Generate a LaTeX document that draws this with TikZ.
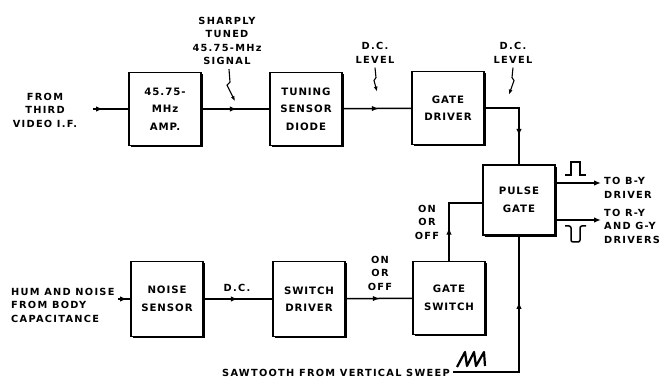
\documentclass[tikz,border=0pt]{standalone}
\usepackage{fontspec}
\newfontfamily\lblfont[LetterSpace=9]{DejaVu Sans}
\newfontfamily\capsfont[LetterSpace=13]{DejaVu Sans}
\usetikzlibrary{arrows.meta,shadows,decorations.markings}
\newcommand\boxfont{\lblfont\bfseries\fontsize{10.2}{17.5}\selectfont}
\newcommand\capfont{\capsfont\bfseries\fontsize{9.8}{13.5}\selectfont}
\tikzset{
  blk/.style={draw, line width=1.6pt, fill=white, minimum width=72pt, minimum height=73pt,
    align=center, font=\boxfont,
    general shadow={fill=black, shadow xshift=1.6pt, shadow yshift=-1.6pt}},
  lbl/.style={align=center, font=\capfont, inner sep=0pt},
  wire/.style={line width=1.5pt},
  arrowat/.style={wire, postaction={decorate},
    decoration={markings, mark=at position #1 with {\arrow{Latex[length=7pt,width=5.5pt]}}}},
  lead/.style={line width=1.1pt, -{Latex[length=5pt,width=4pt]}},
}

\begin{document}
\begin{tikzpicture}[x=1pt,y=-1pt]
  \fill[white] (0,0) rectangle (665,379);
  \useasboundingbox (0,0) rectangle (665,379);

  \node[blk] (amp)  at (165,109) {45.75-\\MHz\\AMP.};
  \node[blk] (tsd)  at (306,109) {TUNING\\SENSOR\\DIODE};
  \node[blk] (gdrv) at (448,108) {GATE\\DRIVER};
  \node[blk, minimum height=70pt] (pulse) at (519,200) {PULSE\\GATE};
  \node[blk, minimum height=75pt] (noise) at (167,299) {NOISE\\SENSOR};
  \node[blk, minimum height=75pt] (sdrv)  at (309,299) {SWITCH\\DRIVER};
  \node[blk] (gsw)  at (449,298) {GATE\\SWITCH};

  \node[lbl] (vif) at (45,110) {FROM\\THIRD\\VIDEO I.F.};
  \node[lbl] (sig) at (227,41) {SHARPLY\\TUNED\\45.75-MHz\\SIGNAL};
  \node[lbl] (dc1) at (375,53) {D.C.\\LEVEL};
  \node[lbl] (dc2) at (513,53) {D.C.\\LEVEL};
  \node[lbl] (onoff1) at (427,222) {ON\\OR\\OFF};
  \node[lbl] (onoff2) at (380,273) {ON\\OR\\OFF};
  \node[lbl] (dc3) at (237,288) {D.C.};
  \node[lbl, align=left, anchor=west] (hum) at (11,305) {HUM AND NOISE\\FROM BODY\\CAPACITANCE};
  \node[lbl, align=left, anchor=west] (toby) at (604,188) {TO B-Y\\DRIVER};
  \node[lbl, align=left, anchor=west] (tory) at (604,226) {TO R-Y\\AND G-Y\\DRIVERS};
  \node[lbl, anchor=east] (saw) at (450,373) {SAWTOOTH FROM VERTICAL SWEEP};

  \coordinate (vin) at (93,109);
  \coordinate (hin) at (118,299);
  \coordinate (sawin) at (453,372);
  \coordinate (byout) at (601,183);
  \coordinate (ryout) at (601,220);

  \draw[arrowat=10pt] (vin) -- (amp);
  \draw[arrowat=35pt] (amp) -- (tsd);
  \draw[arrowat=36pt] (tsd) -- (gdrv);
  \draw[arrowat=62pt] (gdrv.east) -| (pulse.north);
  \draw[arrowat=9pt] (hin) -- (noise);
  \draw[arrowat=34pt] (noise) -- (sdrv);
  \draw[arrowat=34pt] (sdrv) -- (gsw);
  \draw[arrowat=33pt] (gsw.north) |- ([yshift=-3pt]pulse.west);
  \draw[arrowat=136pt] (sawin) -| (pulse.south);
  \draw[wire, -{Latex[length=7pt,width=5.5pt]}] (pulse.east |- byout) -- (byout);
  \draw[wire, -{Latex[length=7pt,width=5.5pt]}] (pulse.east |- ryout) -- (ryout);

  \draw[lead] ([xshift=2pt]sig.south) ++(0,4) -- ++(1,13) -- ++(-3,3) -- ++(8,16);
  \draw[lead] (dc1.south) ++(0,4) -- ++(1,10) -- ++(-2,3) -- ++(3,11);
  \draw[lead] (dc2.south) ++(0,4) -- ++(-1,10) -- ++(2,3) -- ++(-5,14);

  \draw[line width=1.5pt] (565,175) -- (571,175) -- (571,162) -- (580,162) -- (580,175) -- (586,175);
  \draw[line width=1.5pt, rounded corners=2pt] (565,226) -- (571,226) -- (571,242) -- (580,242) -- (580,226) -- (586,226);
  \draw[line width=2.2pt, line join=round] (457,367) -- (465,352) -- (467,366) -- (474,352) -- (476,366) -- (484,352) -- (485,366);
\end{tikzpicture}
\end{document}
